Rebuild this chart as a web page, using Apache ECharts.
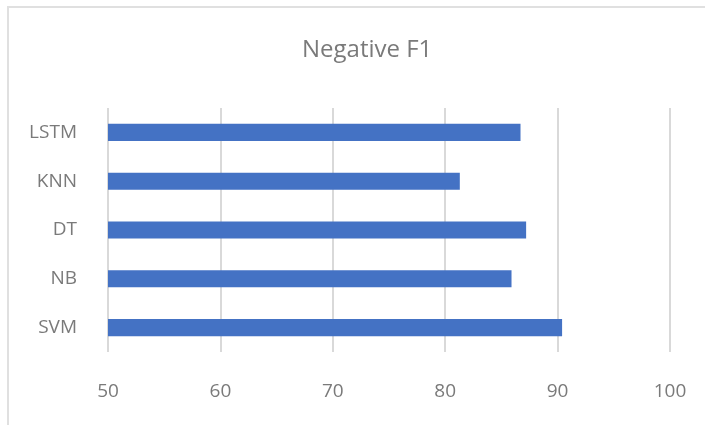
<!DOCTYPE html>
<html>
<head>
<meta charset="utf-8">
<script src="https://cdn.jsdelivr.net/npm/echarts@6/dist/echarts.min.js"></script>
<style>
    html, body { margin: 0; padding: 0; background: #fff; }
    #frame {
        position: absolute; left: 7px; top: 6px; width: 698px; height: 419px;
        border-top: 2px solid #e0e0e0; border-left: 2px solid #e0e0e0;
        box-sizing: border-box;
    }
    #chart { position: absolute; left: 0; top: 0; width: 705px; height: 425px; }
</style>
</head>
<body>
<div id="frame"></div>
<div id="chart"></div>
<script>
    // 数据
    var categories = ['SVM', 'NB', 'DT', 'KNN', 'LSTM'];
    var f1Values = [90.4, 85.9, 87.2, 81.3, 86.7];
    var xTicks = [50, 60, 70, 80, 90, 100];

    var myChart = echarts.init(document.getElementById('chart'));
    var option = {
        animation: false,
        title: {
            text: 'Negative F1',
            left: 297,
            top: 33,
            textStyle: {
                fontFamily: 'Open Sans',
                fontWeight: 'normal',
                fontSize: 24,
                color: '#7a7a7a'
            }
        },
        grid: { left: 108, right: 35, top: 108, bottom: 73 },
        xAxis: {
            type: 'value',
            min: xTicks[0],
            max: xTicks[xTicks.length - 1],
            interval: 10,
            axisLine: { show: false },
            axisTick: { show: false },
            axisLabel: {
                margin: 30,
                fontFamily: 'Open Sans',
                fontSize: 19,
                color: '#7a7a7a'
            },
            splitLine: { lineStyle: { color: '#d9d9d9', width: 2 } }
        },
        yAxis: {
            type: 'category',
            data: categories,
            axisLine: { show: false },
            axisTick: { show: false },
            axisLabel: {
                margin: 31,
                fontFamily: 'Open Sans',
                fontSize: 19,
                color: '#7a7a7a'
            }
        },
        series: [{
            type: 'bar',
            data: f1Values,
            barWidth: '35%',
            itemStyle: { color: '#4472C4' }
        }]
    };
    option && myChart.setOption(option);
</script>
</body>
</html>
